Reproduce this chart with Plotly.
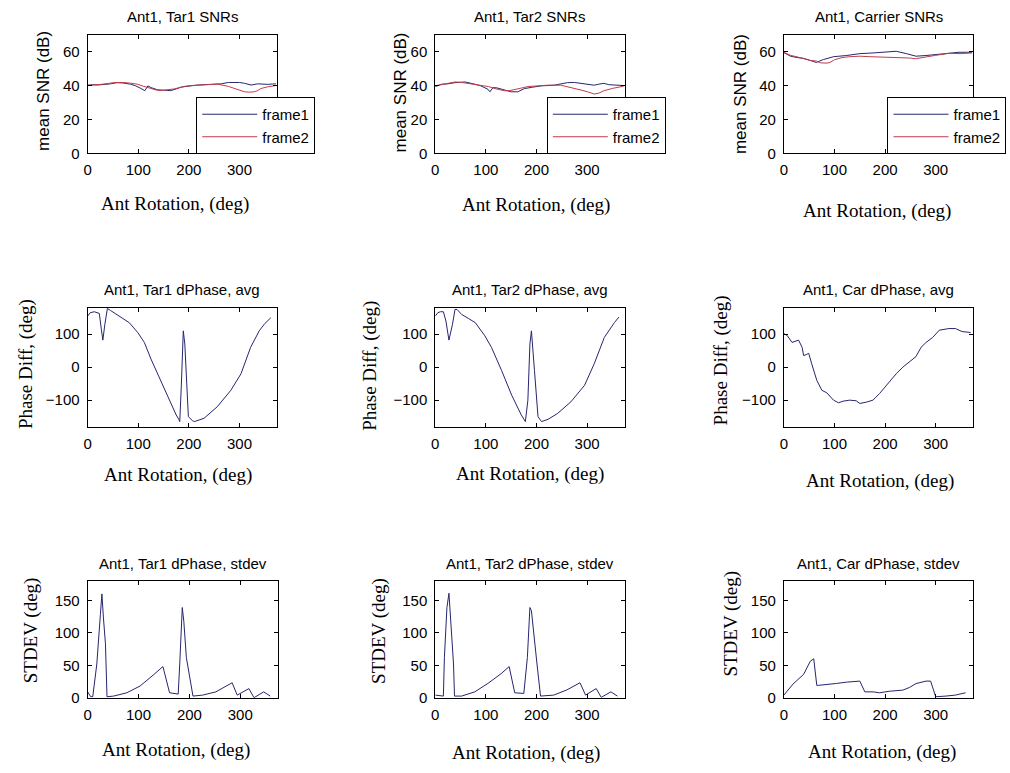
import plotly.graph_objects as go

# ---- data: antenna rotation sweeps (deg) ----
snr_tar1_f1_x = [0, 10, 20, 32, 45, 58, 70, 85, 95, 105, 109, 113, 119, 125, 138, 150, 164, 175, 184, 195, 204, 215, 230, 245, 264, 278, 290, 300, 310, 323, 336, 346, 356, 365, 372]
snr_tar1_f1_y = [40.2, 40.5, 40.3, 40.5, 41.0, 41.7, 41.5, 40.8, 39.8, 38.3, 37.5, 37.0, 39.8, 38.8, 37.5, 37.2, 37.0, 38.0, 39.0, 39.5, 40.0, 40.2, 40.5, 40.6, 41.0, 41.8, 42.0, 41.8, 41.3, 40.3, 41.0, 40.8, 40.7, 40.9, 41.0]
snr_tar1_f2_x = [0, 15, 30, 52, 70, 85, 98, 110, 124, 135, 144, 158, 171, 182, 191, 205, 217, 235, 257, 268, 278, 288, 297, 310, 320, 329, 336, 342, 355, 365, 372]
snr_tar1_f2_y = [40.0, 40.3, 40.8, 41.7, 41.8, 41.4, 40.8, 39.6, 38.3, 37.4, 37.0, 37.3, 38.0, 38.8, 39.5, 40.0, 40.3, 40.5, 40.8, 40.2, 39.5, 38.5, 37.5, 36.3, 36.1, 36.3, 37.0, 38.2, 39.2, 39.8, 40.0]

snr_tar2_f1_x = [0, 13, 25, 39, 59, 70, 78, 90, 98, 104, 108, 111, 114, 122, 131, 140, 150, 163, 176, 192, 209, 235, 261, 275, 288, 300, 314, 323, 333, 343, 353, 362, 372]
snr_tar2_f1_y = [39.4, 40.8, 41.0, 41.7, 42.1, 41.5, 40.8, 39.8, 38.8, 37.8, 36.3, 37.5, 38.8, 38.6, 37.9, 37.0, 36.3, 36.3, 38.2, 39.0, 39.8, 40.2, 41.7, 41.8, 41.3, 41.0, 40.2, 40.8, 41.3, 40.5, 40.2, 40.0, 40.0]
snr_tar2_f2_x = [0, 15, 39, 52, 65, 80, 92, 105, 118, 128, 137, 147, 157, 170, 183, 200, 222, 248, 262, 275, 290, 301, 314, 323, 333, 350, 366, 372]
snr_tar2_f2_y = [39.8, 40.6, 42.1, 41.8, 41.3, 40.8, 40.2, 39.4, 38.2, 37.5, 36.9, 37.0, 37.5, 38.5, 39.4, 39.8, 40.2, 40.2, 39.3, 38.2, 37.2, 36.3, 35.0, 35.5, 36.9, 38.3, 39.4, 39.6]

snr_car_f1_x = [0, 13, 26, 39, 52, 64, 78, 98, 124, 150, 176, 196, 215, 222, 242, 261, 281, 301, 327, 346, 372]
snr_car_f1_y = [59.4, 57.3, 56.5, 56.0, 54.8, 53.6, 55.3, 57.0, 57.7, 58.8, 59.2, 59.6, 60.3, 60.2, 58.8, 57.3, 57.7, 58.3, 59.3, 59.6, 59.6]
snr_car_f2_x = [0, 13, 26, 39, 52, 65, 72, 85, 91, 100, 115, 130, 150, 170, 190, 210, 230, 250, 260, 270, 280, 300, 327, 350, 372]
snr_car_f2_y = [59.6, 57.8, 56.9, 55.8, 54.8, 54.4, 53.4, 53.2, 53.6, 55.2, 56.5, 57.0, 57.3, 57.0, 56.8, 56.4, 56.6, 56.2, 55.8, 56.2, 57.0, 57.8, 59.0, 58.8, 59.2]

dph_tar1_x = [0, 5, 13, 23, 27, 30, 34, 39, 45, 52, 65, 82, 99, 112, 125, 145, 164, 175, 180, 182, 185, 189, 192, 194, 197, 199, 207, 211, 230, 256, 283, 303, 322, 339, 350, 362]
dph_tar1_y = [155, 165, 168, 163, 115, 82, 130, 178, 172, 165, 152, 135, 105, 75, 25, -45, -110, -145, -158, -165, -60, 110, 70, 10, -90, -150, -162, -165, -155, -120, -70, -20, 60, 110, 132, 150]

dph_tar2_x = [0, 5, 10, 16, 21, 27, 34, 39, 43, 52, 65, 79, 98, 111, 131, 151, 170, 178, 183, 187, 190, 193, 196, 203, 210, 223, 242, 268, 295, 314, 334, 354, 363]
dph_tar2_y = [155, 165, 168, 168, 140, 82, 130, 175, 175, 160, 148, 135, 95, 60, -10, -85, -145, -165, -100, 70, 110, 60, -10, -150, -165, -158, -140, -105, -55, 10, 90, 135, 152]

dph_car_x = [0, 7, 16, 23, 29, 36, 39, 44, 49, 55, 65, 75, 85, 98, 108, 117, 130, 143, 150, 163, 176, 189, 202, 222, 235, 248, 261, 271, 281, 294, 307, 326, 339, 352, 369]
dph_car_y = [102, 95, 75, 80, 82, 60, 35, 38, 42, 10, -40, -70, -78, -100, -108, -103, -100, -102, -110, -106, -100, -80, -55, -20, 0, 15, 32, 60, 75, 90, 112, 117, 117, 108, 105]

std_tar1_x = [0, 6, 10, 18, 25, 28, 31, 35, 38, 51, 77, 103, 129, 148, 161, 178, 181, 186, 189, 194, 207, 226, 252, 284, 294, 317, 327, 346, 359]
std_tar1_y = [9, 1.5, 1.5, 52, 128, 160, 123, 83, 1.5, 2.5, 7.6, 18, 35, 48, 7.6, 5.6, 52, 139, 118, 62, 2.5, 4, 9, 23, 4, 14, 0, 9, 2.5]

std_tar2_x = [0, 16, 18, 23, 27, 31, 36, 38, 52, 78, 104, 130, 146, 157, 175, 182, 187, 190, 195, 201, 208, 234, 260, 286, 297, 318, 328, 347, 360]
std_tar2_y = [4, 2.5, 62, 139, 161, 113, 52, 2.5, 2.5, 9, 22, 37, 48, 7.6, 6.6, 62, 139, 134, 93, 52, 2.5, 4, 12, 23, 4, 14, 0.5, 9, 2.5]

std_car_x = [0, 18, 39, 52, 59, 65, 68, 85, 104, 124, 140, 150, 160, 176, 189, 209, 235, 248, 261, 281, 290, 300, 320, 339, 359]
std_car_y = [4, 21, 36, 56, 60, 19, 19, 20, 22, 24, 25, 25.6, 9, 9, 7.6, 10, 11.7, 15.7, 21.8, 25.6, 25.6, 1.5, 2.5, 4, 7.6]

titles = ["Ant1, Tar1 SNRs", "Ant1, Tar2 SNRs", "Ant1, Carrier SNRs",
          "Ant1, Tar1 dPhase, avg", "Ant1, Tar2 dPhase, avg", "Ant1, Car dPhase, avg",
          "Ant1, Tar1 dPhase, stdev", "Ant1, Tar2 dPhase, stdev", "Ant1, Car dPhase, stdev"]
x_label = "Ant Rotation, (deg)"
y_labels = ["mean SNR (dB)", "Phase Diff, (deg)", "STDEV (deg)"]
x_ticks = [0, 100, 200, 300]
y_ticks = [[0, 20, 40, 60], [-100, 0, 100], [0, 50, 100, 150]]
y_ranges = [[0, 70], [-180, 180], [0, 180]]
x_range = [0, 374]

W, H = 1010, 773
BLUE = "#26266e"
RED = "#c23c4c"
SANS = "Liberation Sans, Arial, sans-serif"
SERIF = "Liberation Serif, Times New Roman, serif"

# axes boxes in pixels: (left, right) per column, (top, bottom) per row
cols = [(84, 274), (433, 623), (783, 973)]
cols_row3 = [(84, 275), (433, 623), (783, 973)]
rows = [(35, 155), (311, 431), (587, 705)]

fig = go.Figure()

series = [
    [(snr_tar1_f1_x, snr_tar1_f1_y, BLUE, "frame1"), (snr_tar1_f2_x, snr_tar1_f2_y, RED, "frame2")],
    [(snr_tar2_f1_x, snr_tar2_f1_y, BLUE, "frame1"), (snr_tar2_f2_x, snr_tar2_f2_y, RED, "frame2")],
    [(snr_car_f1_x, snr_car_f1_y, BLUE, "frame1"), (snr_car_f2_x, snr_car_f2_y, RED, "frame2")],
    [(dph_tar1_x, dph_tar1_y, BLUE, None)],
    [(dph_tar2_x, dph_tar2_y, BLUE, None)],
    [(dph_car_x, dph_car_y, BLUE, None)],
    [(std_tar1_x, std_tar1_y, BLUE, None)],
    [(std_tar2_x, std_tar2_y, BLUE, None)],
    [(std_car_x, std_car_y, BLUE, None)],
]

legend_names = ["legend", "legend2", "legend3"]
layout = {}
annotations = []

# x-label and y-label centres (px)
xlab_pos = [(172, 206), (534, 207), (876, 213),
            (175, 480), (528, 479), (879, 486),
            (173, 758), (524, 761), (881, 760)]
ylab_pos = [(39, 92), (398, 93), (739, 95),
            (22, 368), (368, 370), (720, 364),
            (28, 637), (377, 638), (730, 630)]

for i in range(9):
    r, c = divmod(i, 3)
    n = "" if i == 0 else str(i + 1)
    left, right = (cols_row3 if r == 2 else cols)[c]
    top, bottom = rows[r]
    axis_common = dict(
        showline=True, linecolor="black", linewidth=1, mirror="ticks",
        ticks="inside", ticklen=4, tickcolor="black", tickwidth=1,
        showgrid=False, zeroline=False,
        tickfont=dict(family=SANS, size=15, color="black"),
    )
    layout["xaxis" + n] = dict(
        domain=[left / W, right / W], anchor="y" + n, range=x_range,
        tickmode="array", tickvals=x_ticks, ticklabelstandoff=3, **axis_common)
    layout["yaxis" + n] = dict(
        domain=[1 - bottom / H, 1 - top / H], anchor="x" + n, range=y_ranges[r],
        tickmode="array", tickvals=y_ticks[r], ticklabelstandoff=4, **axis_common)

    for (xs, ys, color, name) in series[i]:
        tr = go.Scatter(x=xs, y=ys, mode="lines", xaxis="x" + n, yaxis="y" + n,
                        line=dict(color=color, width=1), name=name or "",
                        showlegend=name is not None)
        if name is not None:
            tr.legend = legend_names[c]
        fig.add_trace(tr)

    annotations.append(dict(text=titles[i], x=(left + right) / 2 / W, y=1 - (top - 18) / H,
                            xref="paper", yref="paper", showarrow=False,
                            xanchor="center", yanchor="middle",
                            font=dict(family=SANS, size=15, color="black")))
    annotations.append(dict(text=x_label, x=xlab_pos[i][0] / W, y=1 - xlab_pos[i][1] / H,
                            xref="paper", yref="paper", showarrow=False,
                            xanchor="center", yanchor="middle",
                            font=dict(family=SERIF, size=19, color="black")))
    yfont = dict(family=SANS, size=17, color="black") if r == 0 else dict(family=SERIF, size=19, color="black")
    annotations.append(dict(text=y_labels[r], x=ylab_pos[i][0] / W, y=1 - ylab_pos[i][1] / H,
                            xref="paper", yref="paper", showarrow=False, textangle=-90,
                            xanchor="center", yanchor="middle", font=yfont))

# legends for the SNR panels
legend_left = [193, 545, 887]
for c in range(3):
    layout[legend_names[c]] = dict(
        x=legend_left[c] / W, y=1 - 98 / H, xanchor="left", yanchor="top",
        bgcolor="white", bordercolor="black", borderwidth=1,
        font=dict(family=SANS, size=15, color="black"),
        itemwidth=55, tracegroupgap=0)

fig.update_layout(
    width=W, height=H, margin=dict(l=0, r=0, t=0, b=0),
    paper_bgcolor="white", plot_bgcolor="white",
    annotations=annotations, **layout)

fig.write_html("out.html")
